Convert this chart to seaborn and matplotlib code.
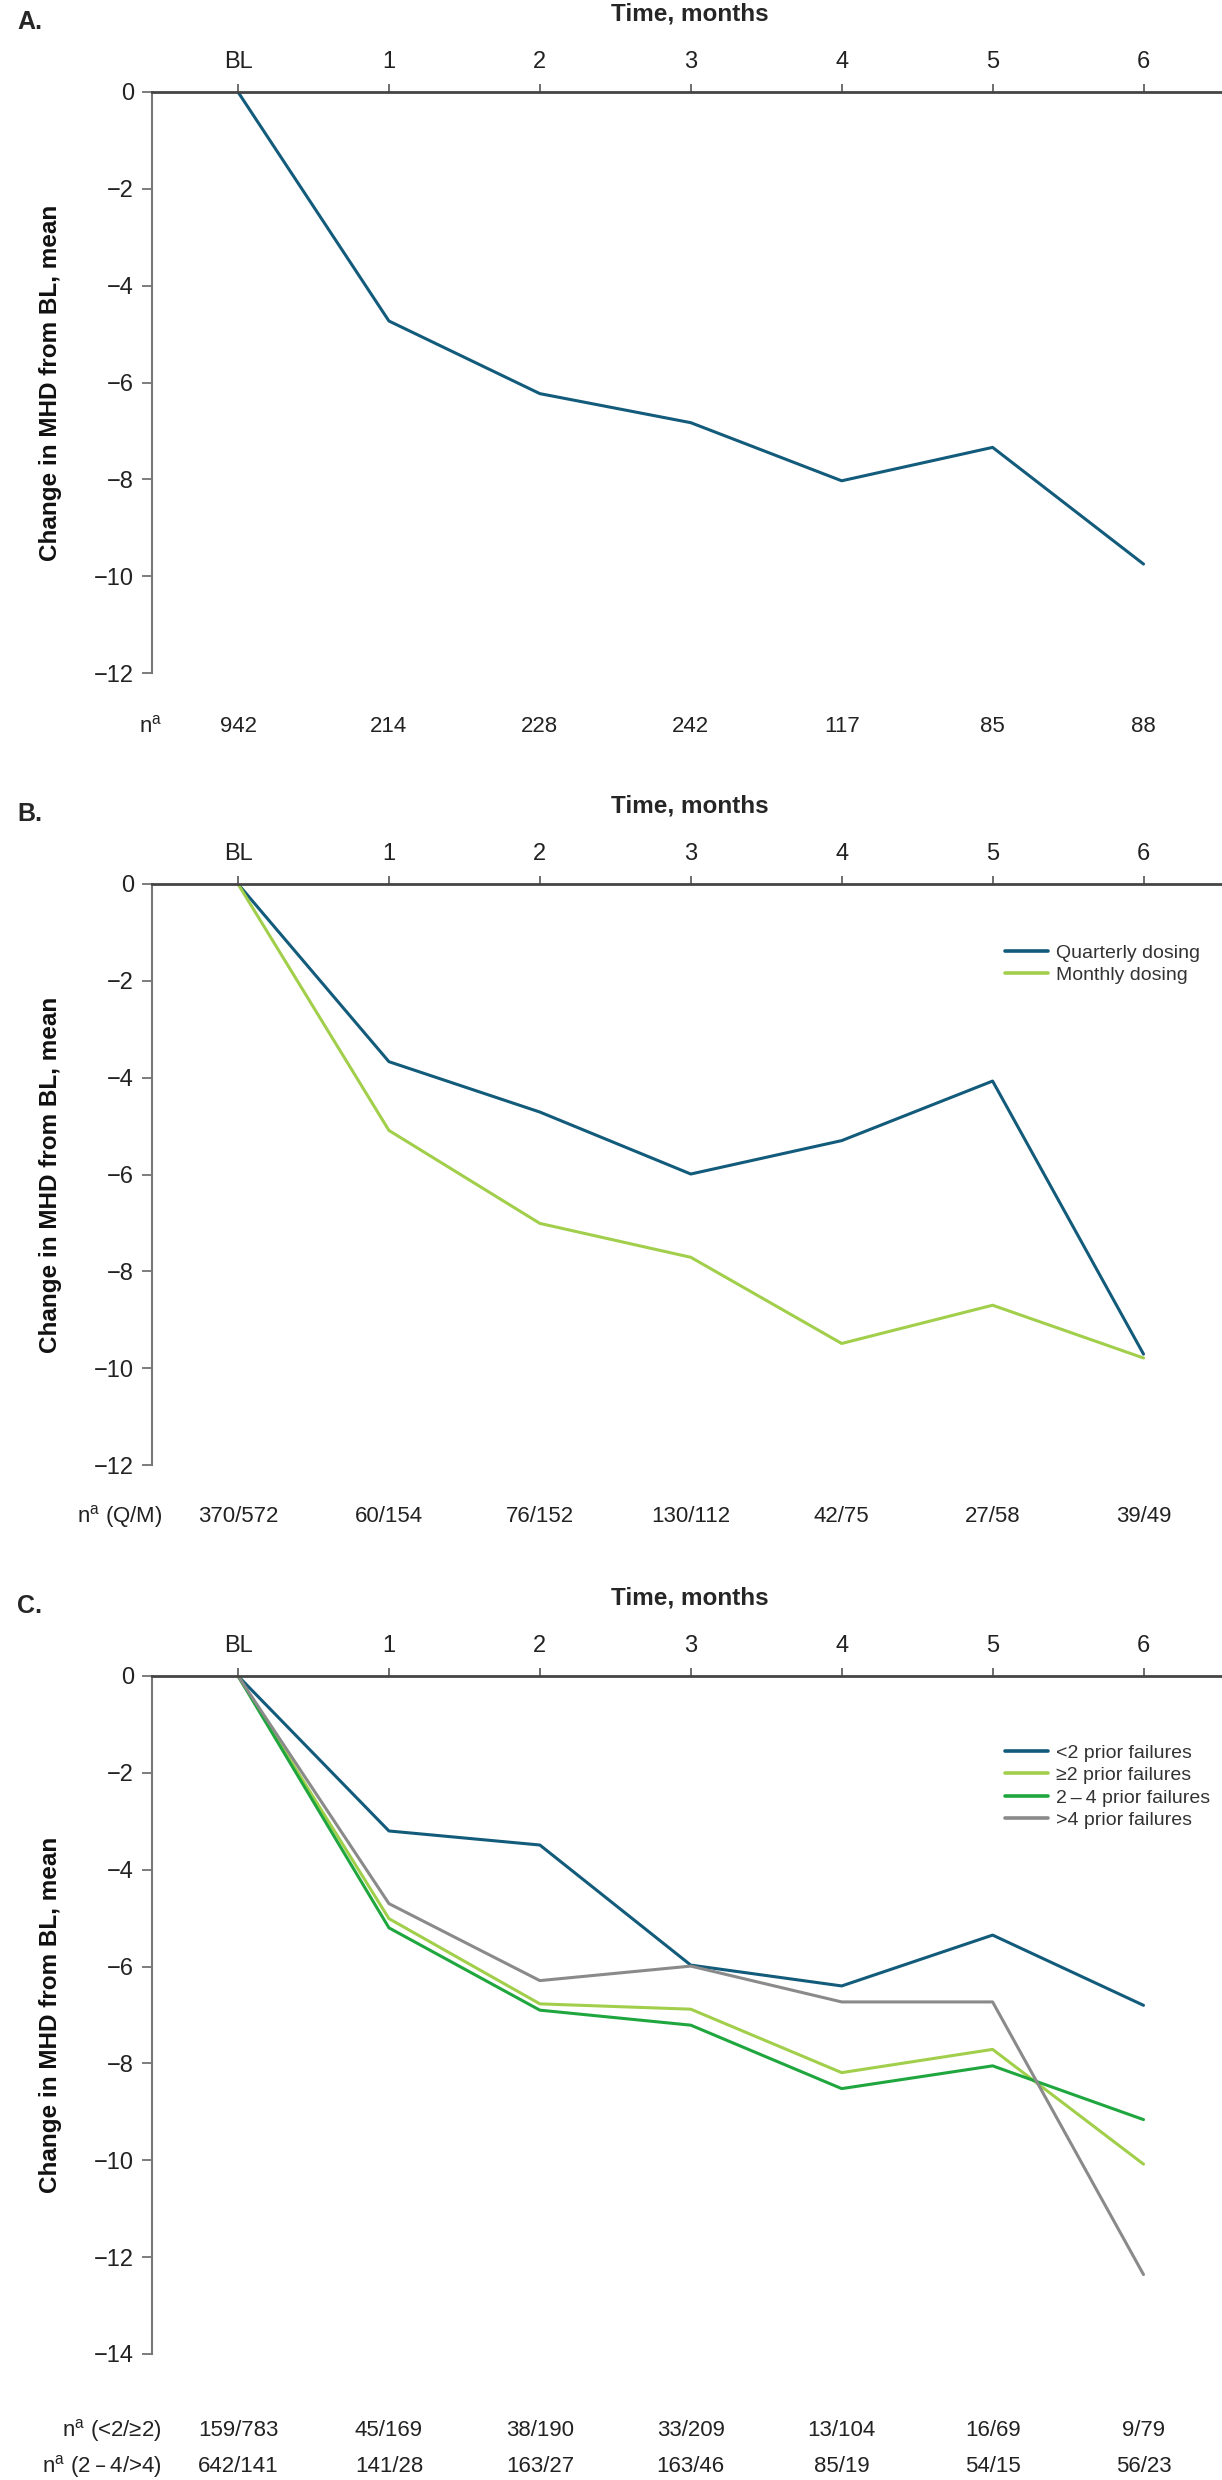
import seaborn as sns
import matplotlib.pyplot as plt
import matplotlib.transforms as mtransforms
import numpy as np
import pandas as pd

# data
timepoints = ['BL', '1', '2', '3', '4', '5', '6']

overall = [0, -4.73, -6.23, -6.83, -8.03, -7.34, -9.75]

quarterly = [0, -3.67, -4.71, -5.99, -5.30, -4.07, -9.71]
monthly = [0, -5.09, -7.01, -7.71, -9.49, -8.70, -9.79]

lt2_failures = [0, -3.20, -3.49, -5.97, -6.40, -5.35, -6.80]
ge2_failures = [0, -5.01, -6.77, -6.88, -8.19, -7.71, -10.08]
f2to4_failures = [0, -5.20, -6.90, -7.21, -8.52, -8.05, -9.16]
gt4_failures = [0, -4.70, -6.29, -5.99, -6.73, -6.73, -12.36]

n_a = ['942', '214', '228', '242', '117', '85', '88']
n_b = ['370/572', '60/154', '76/152', '130/112', '42/75', '27/58', '39/49']
n_c1 = ['159/783', '45/169', '38/190', '33/209', '13/104', '16/69', '9/79']
n_c2 = ['642/141', '141/28', '163/27', '163/46', '85/19', '54/15', '56/23']

BLUE = '#125b7b'
LIME = '#a2cf4b'
GREEN = '#1fa63e'
GREY = '#8a8a8a'

sns.set_style('white')
plt.rcParams['font.family'] = ['Liberation Sans', 'DejaVu Sans']
plt.rcParams['axes.unicode_minus'] = True

W, H = 1222, 2480
fig = plt.figure(figsize=(W / 100, H / 100), dpi=100)

AX_LEFT = 152


def make_frame(series):
    rows = []
    for name, vals in series.items():
        for i, v in enumerate(vals):
            rows.append({'time': i, 'value': v, 'group': name})
    return pd.DataFrame(rows)


def fig_y(px):
    return 1 - px / H


def panel(top, bottom, ymin, letter, series, palette, nrows, nlabels, legend_top=None):
    ax = fig.add_axes([AX_LEFT / W, 1 - bottom / H, (W - AX_LEFT) / W, (bottom - top) / H])
    df = make_frame(series)
    sns.lineplot(data=df, x='time', y='value', hue='group', palette=palette,
                 hue_order=list(series.keys()), linewidth=2.2, ax=ax, legend=legend_top is not None)
    ax.set_xlim(-0.57, 6.52)
    ax.set_ylim(ymin, 0)
    ax.set_yticks(np.arange(ymin, 1, 2))
    ax.set_xticks(range(len(timepoints)))
    ax.set_xticklabels(timepoints)
    ax.xaxis.tick_top()
    ax.set_xlabel('')
    ax.set_ylabel('Change in MHD from BL, mean', fontsize=17.5, fontweight='bold', color='#111111',
                  va='center')
    ax.yaxis.set_label_coords(-0.095, 0.5)
    ax.tick_params(axis='x', top=True, bottom=False, direction='out', length=6, width=1.2,
                   color='#555555', pad=8, labelsize=17, labelcolor='#222222')
    ax.tick_params(axis='y', left=True, direction='out', length=7, width=1.2,
                   color='#666666', pad=6, labelsize=17, labelcolor='#222222')
    for s in ['right', 'bottom']:
        ax.spines[s].set_visible(False)
    ax.spines['top'].set_color('#444444')
    ax.spines['top'].set_linewidth(2)
    ax.spines['left'].set_color('#777777')
    ax.spines['left'].set_linewidth(1.5)
    ax.grid(False)

    # panel letter and top axis title
    fig.text(17 / W, fig_y(top - 70), letter, fontsize=18, fontweight='bold', va='center', ha='left')
    fig.text(690 / W, fig_y(top - 78), 'Time, months', fontsize=17.5, fontweight='bold',
             va='center', ha='center')

    # n table under the plot
    trans = mtransforms.blended_transform_factory(ax.transData, fig.transFigure)
    for (offset, vals), lab in zip(nrows, nlabels):
        y = fig_y(bottom + offset)
        fig.text(162 / W, y, lab, fontsize=16, ha='right', va='center', color='#222222')
        for i, v in enumerate(vals):
            ax.text(i, y, v, transform=trans, fontsize=16, ha='center', va='center', color='#222222')

    if legend_top is not None:
        leg = ax.legend(loc='upper left', bbox_to_anchor=(0.797, 1 - (legend_top - 10) / (bottom - top)),
                        frameon=False, fontsize=14, handlelength=2.2, handletextpad=0.45,
                        labelspacing=0.25, borderpad=0, borderaxespad=0)
        for t in leg.get_texts():
            t.set_color('#333333')
        for l in leg.get_lines():
            l.set_linewidth(2.6)
    return ax


NA = 'n$^{\\mathregular{a}}$'

panel(92, 673, -12, 'A.', {'All': overall}, {'All': BLUE},
      [(53, n_a)], [NA])

panel(884, 1465, -12, 'B.', {'Quarterly dosing': quarterly, 'Monthly dosing': monthly},
      {'Quarterly dosing': BLUE, 'Monthly dosing': LIME},
      [(52, n_b)], [NA + ' (Q/M)'], legend_top=70)

panel(1676, 2354, -14, 'C.',
      {'<2 prior failures': lt2_failures, '\u22652 prior failures': ge2_failures,
       '2\u2009\u2013\u20094 prior failures': f2to4_failures, '>4 prior failures': gt4_failures},
      {'<2 prior failures': BLUE, '\u22652 prior failures': LIME,
       '2\u2009\u2013\u20094 prior failures': GREEN, '>4 prior failures': GREY},
      [(76, n_c1), (113, n_c2)],
      [NA + ' (<2/\u22652)', NA + ' (2\u2009\u2013\u20094/>4)'], legend_top=78)

fig.savefig('out.png', dpi=100)
